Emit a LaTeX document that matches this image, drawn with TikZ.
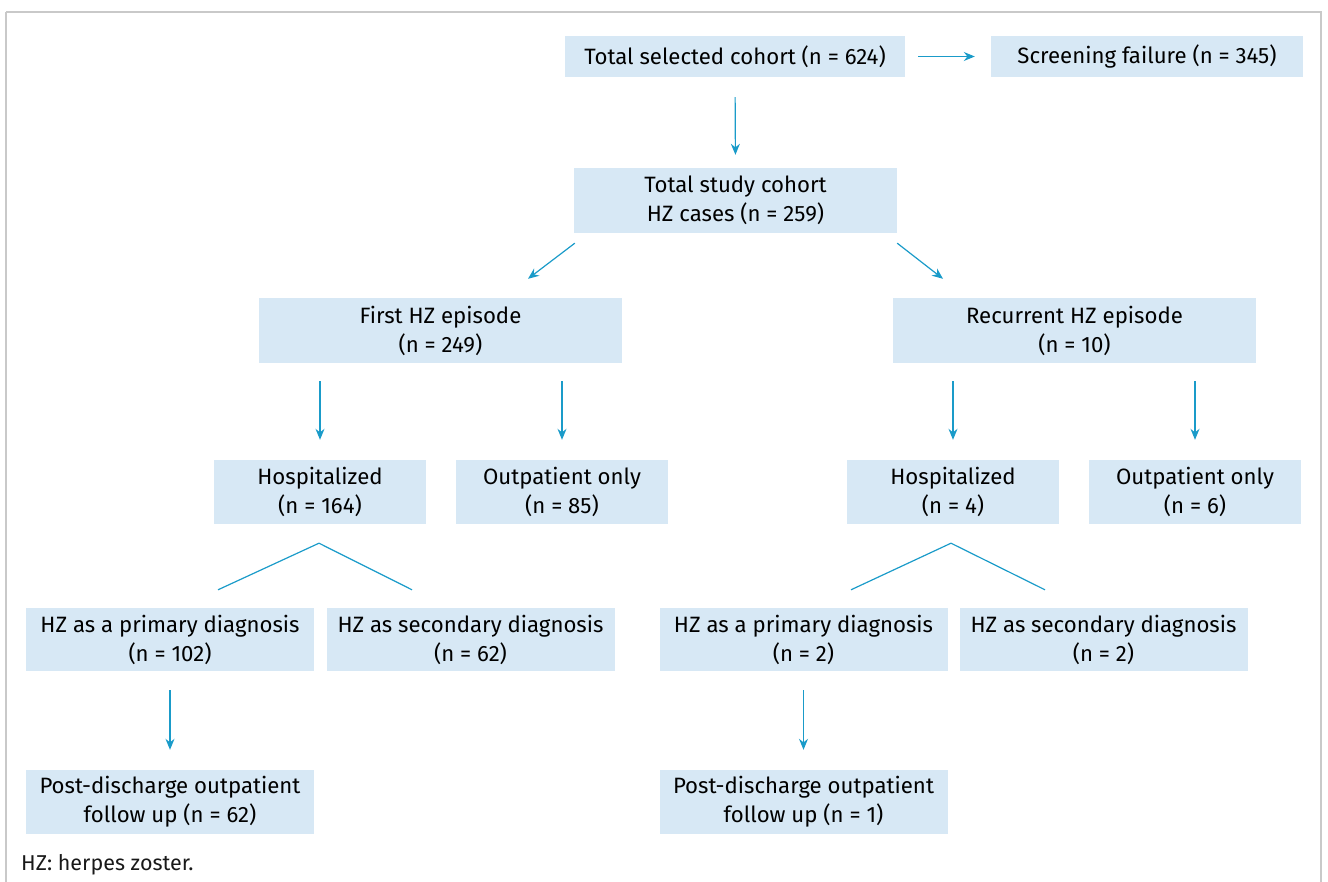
\documentclass[tikz,border=0pt]{standalone}
\usepackage{fontspec}
\setmainfont{Fira Sans}
\usetikzlibrary{arrows.meta,calc}
\definecolor{boxfill}{HTML}{D7E8F5}
\definecolor{arrowc}{HTML}{1A9BC9}
\definecolor{frame}{HTML}{C9C9C9}
\begin{document}
\begin{tikzpicture}[x=1pt,y=-1pt,
  box/.style={fill=boxfill,draw=none,inner sep=0pt,align=center,
    font=\fontsize{22.2}{29}\selectfont,text=black},
  one/.style={box,minimum height=41pt},
  two/.style={box,minimum height=64pt},
  arr/.style={draw=arrowc,line width=1.2pt,-{Stealth[length=11pt,width=9pt]}},
  ln/.style={draw=arrowc,line width=1.2pt}]
\useasboundingbox (0,0) rectangle (1328,882);
\draw[frame,line width=1.5pt] (6,12) -- (1321,12) -- (1321,895) (6,12) -- (6,895);

\node[one,minimum width=340pt] (tsel) at (735,56.5) {Total selected cohort (n = 624)};
\node[one,minimum width=312pt] (scr) at (1147,56.5) {Screening failure (n = 345)};
\node[two,minimum width=323pt,minimum height=65pt] (tsc) at (735.5,200.5) {Total study cohort\\HZ cases (n = 259)};
\node[two,minimum width=363pt,minimum height=65pt] (first) at (440.5,330.5) {First HZ episode\\(n = 249)};
\node[two,minimum width=363pt,minimum height=65pt] (rec) at (1074.5,330.5) {Recurrent HZ episode\\(n = 10)};
\node[two,minimum width=212pt] (hosp1) at (320,492) {Hospitalized\\(n = 164)};
\node[two,minimum width=212pt] (out1) at (562,492) {Outpatient only\\(n = 85)};
\node[two,minimum width=212pt] (hosp2) at (953,492) {Hospitalized\\(n = 4)};
\node[two,minimum width=212pt] (out2) at (1195,492) {Outpatient only\\(n = 6)};
\node[two,minimum width=288pt,minimum height=63pt] (prim1) at (170,639.5) {HZ as a primary diagnosis\\(n = 102)};
\node[two,minimum width=288pt,minimum height=63pt] (sec1) at (470.5,639.5) {HZ as secondary diagnosis\\(n = 62)};
\node[two,minimum width=288pt,minimum height=63pt] (prim2) at (803.5,639.5) {HZ as a primary diagnosis\\(n = 2)};
\node[two,minimum width=288pt,minimum height=63pt] (sec2) at (1103.5,639.5) {HZ as secondary diagnosis\\(n = 2)};
\node[two,minimum width=288pt] (post1) at (170,802) {Post-discharge outpatient\\follow up (n = 62)};
\node[two,minimum width=288pt] (post2) at (803.5,802) {Post-discharge outpatient\\follow up (n = 1)};

\node[anchor=west,inner sep=0pt,font=\fontsize{21.5}{24}\selectfont,text=black!90] (note) at (21,865) {HZ: herpes zoster.};

% arrows
\draw[arr,shorten <=13pt,shorten >=16pt] (tsel.east) -- (scr.west);
\draw[arr,shorten <=20pt,shorten >=13pt] (tsel.south) -- (tsc.north);
\draw[arr] ($(tsc.south west)+(1,10)$) -- ($(first.north)+(87.5,-19)$);
\draw[arr] ($(tsc.south east)+(0,10)$) -- ($(rec.north)+(-131.5,-19)$);
\draw[arr,shorten <=18pt,shorten >=20pt] (hosp1.north |- first.south) -- (hosp1.north);
\draw[arr,shorten <=18pt,shorten >=20pt] (out1.north |- first.south) -- (out1.north);
\draw[arr,shorten <=18pt,shorten >=20pt] (hosp2.north |- rec.south) -- (hosp2.north);
\draw[arr,shorten <=18pt,shorten >=20pt] (out2.north |- rec.south) -- (out2.north);
\draw[arr,shorten <=19pt,shorten >=20pt] (prim1.south) -- (post1.north);
\draw[arr,shorten <=19pt,shorten >=20pt] (prim2.south) -- (post2.north);

% branches
\coordinate (ap1) at ($(hosp1.south)+(-1,19)$);
\coordinate (bl1) at ($(prim1.north)+(48,-18)$);
\coordinate (br1) at ($(sec1.north)+(-58.5,-18)$);
\draw[ln] (bl1) -- (ap1) -- (br1);
\coordinate (ap2) at ($(hosp2.south)+(-2,19)$);
\coordinate (bl2) at ($(prim2.north)+(47.5,-18)$);
\coordinate (br2) at ($(sec2.north)+(-58.5,-18)$);
\draw[ln] (bl2) -- (ap2) -- (br2);
\end{tikzpicture}
\end{document}
